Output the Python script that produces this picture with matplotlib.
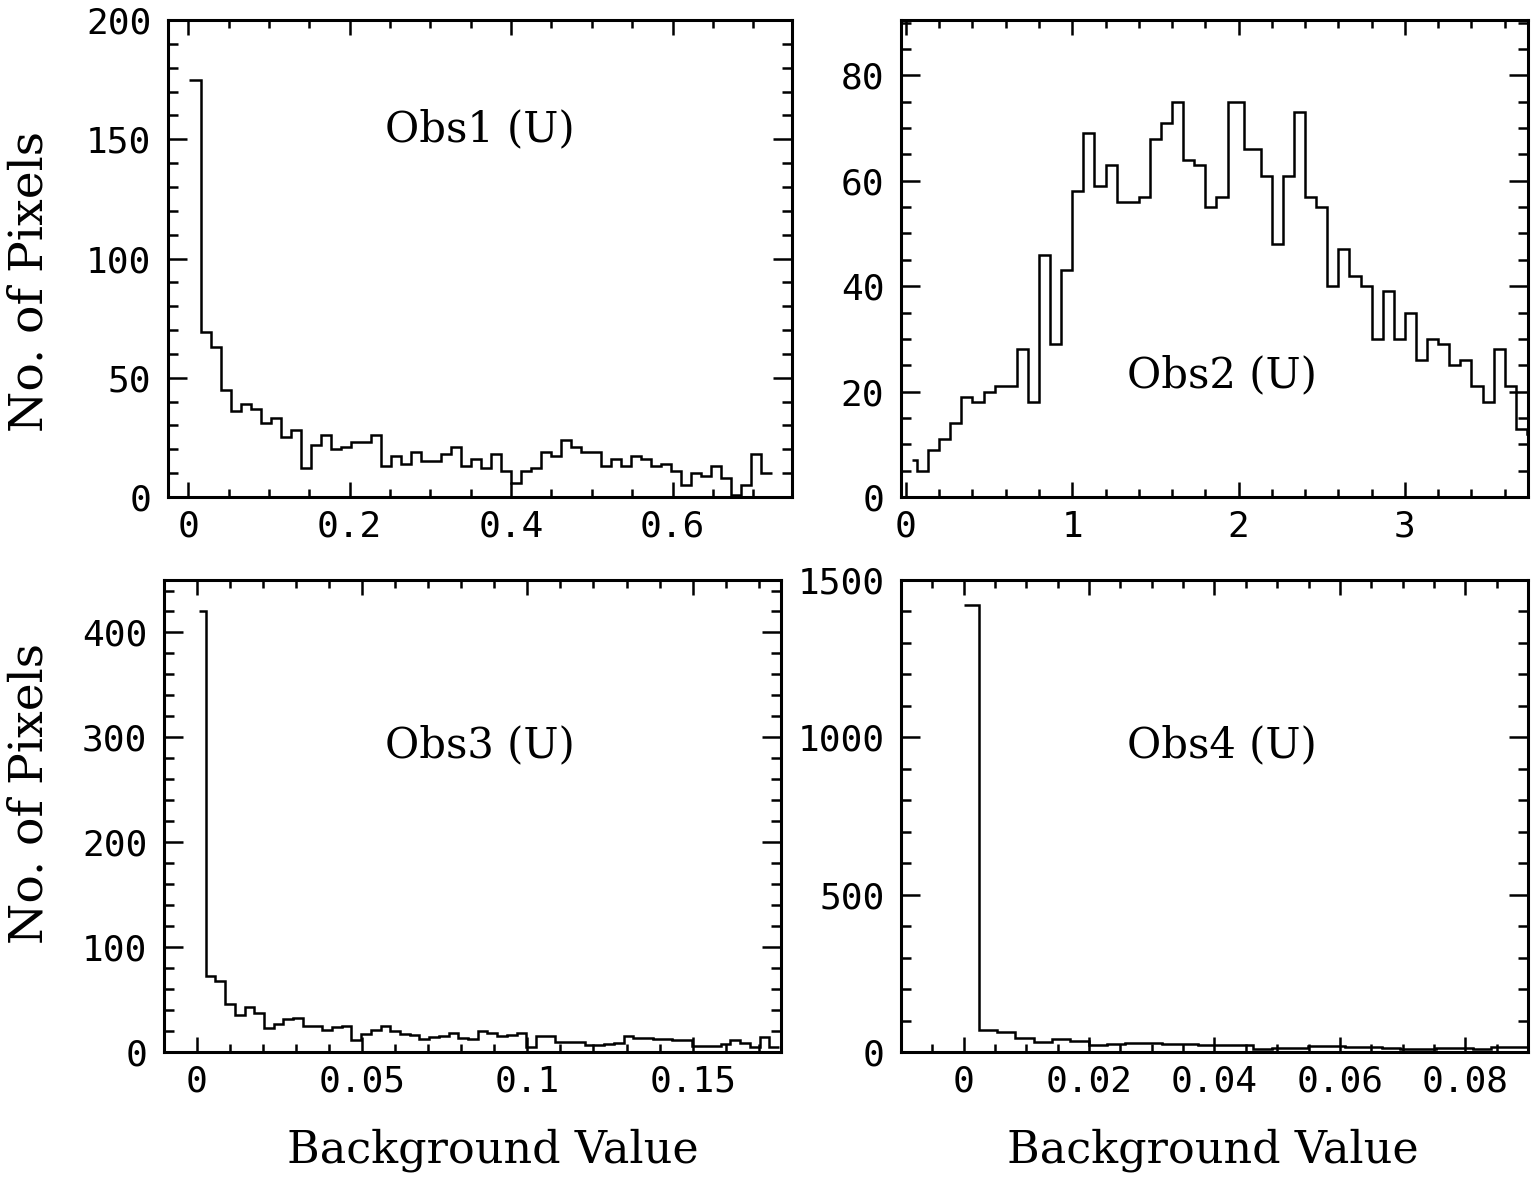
import matplotlib
matplotlib.use('Agg')
import numpy as np
import matplotlib.pyplot as plt
from matplotlib.ticker import MultipleLocator, FormatStrFormatter

# ---- data ----
# Obs1: first (partial) bin edge, then regular bins
obs1_counts = [175, 69, 63, 45, 36, 39, 37, 31, 33, 25, 28, 12, 22, 26, 20, 21, 23, 23,
               26, 13, 17, 14, 19, 15, 15, 18, 21, 13, 16, 12, 18, 11, 6, 11, 12, 19,
               17, 24, 21, 19, 19, 13, 16, 13, 17, 16, 13, 14, 11, 5, 10, 9, 13, 8, 1,
               5, 18, 10]
obs1_first, obs1_start, obs1_width = 0.001, 0.0152, 0.01241

# Obs2: bin centres (k + 0.5)/15, the bin k=30 is absent
obs2_counts = [7, 5, 9, 11, 14, 19, 18, 20, 21, 21, 28, 18, 46, 29, 43, 58, 69, 59, 63,
               56, 56, 57, 68, 71, 75, 64, 63, 55, 57, 75,
               66, 61, 48, 61, 73, 57, 55, 40, 47, 42, 40, 30, 39, 30, 35, 26, 30, 29,
               25, 26, 21, 18, 28, 21, 13, 12]
obs2_nbins, obs2_width, obs2_missing = 57, 1.0 / 15, 30

# Obs3
obs3_counts = [420, 72, 68, 46, 35, 43, 37, 23, 27, 31, 32, 25, 25, 21, 24, 25, 11, 17,
               21, 25, 20, 17, 16, 12, 14, 15, 18, 13, 12, 20, 18, 15, 16, 18, 5, 15,
               15, 10, 10, 10, 7, 7, 8, 9, 15, 13, 13, 12, 12, 11, 11, 6, 6, 6, 8, 11,
               9, 5, 14, 5]
obs3_first, obs3_start, obs3_width = 0.0005, 0.00266, 0.00294

# Obs4
obs4_counts = [1420, 70, 64, 43, 33, 40, 35, 21, 25, 30, 30, 24, 24, 22, 22, 22, 9, 12,
               12, 20, 20, 17, 17, 14, 10, 10, 12, 12, 9, 17, 17]
obs4_first, obs4_start, obs4_width = 0.0, 0.0024, 0.00292

titles = ['Obs1 (U)', 'Obs2 (U)', 'Obs3 (U)', 'Obs4 (U)']
ylabel = 'No. of Pixels'
xlabel = 'Background Value'


def reg_edges(first, start, width, n):
    # first bin starts at `first`, the rest are regular
    return np.r_[first, start + width * np.arange(n)]


def mid_edges(c):
    # steps drawn around centres, line ends at first/last centre
    c = np.asarray(c)
    return np.r_[c[0], 0.5 * (c[1:] + c[:-1]), c[-1]]


obs2_x = np.delete((np.arange(obs2_nbins) + 0.5) * obs2_width, obs2_missing)

fig = plt.figure(figsize=(15.32, 11.77), dpi=100)

serif = 'DejaVu Serif'
tickfont = 'DejaVu Sans Mono'


def panel(rect, edges, counts, xlim, ylim, xmaj, xmin, ymaj, ymin, title, tpos):
    ax = fig.add_axes(rect)
    ax.stairs(counts, edges, baseline=None, color='black', lw=1.8)
    ax.set_xlim(*xlim)
    ax.set_ylim(*ylim)
    ax.xaxis.set_major_locator(MultipleLocator(xmaj))
    ax.xaxis.set_minor_locator(MultipleLocator(xmin))
    ax.yaxis.set_major_locator(MultipleLocator(ymaj))
    ax.yaxis.set_minor_locator(MultipleLocator(ymin))
    ax.xaxis.set_major_formatter(FormatStrFormatter('%g'))
    ax.yaxis.set_major_formatter(FormatStrFormatter('%g'))
    ax.tick_params(which='both', direction='in', top=True, right=True, width=1.8,
                   labelsize=26, color='black')
    ax.tick_params(axis='x', which='major', length=11, pad=9)
    ax.tick_params(axis='x', which='minor', length=5.5)
    ax.tick_params(axis='y', which='major', length=14, pad=12)
    ax.tick_params(axis='y', which='minor', length=7)
    for lab in ax.get_xticklabels() + ax.get_yticklabels():
        lab.set_family(tickfont)
    for s in ax.spines.values():
        s.set_linewidth(2.2)
    ax.text(tpos[0], tpos[1], title, transform=ax.transAxes, ha='center', va='center',
            fontsize=30, family=serif)
    return ax


panel([0.1097, 0.5777, 0.4073, 0.4053],
      reg_edges(obs1_first, obs1_start, obs1_width, len(obs1_counts)), obs1_counts,
      (-0.025, 0.748), (0, 200), 0.2, 0.05, 50, 10, titles[0], (0.5, 0.77))
panel([0.5881, 0.5777, 0.4093, 0.4053],
      mid_edges(obs2_x), obs2_counts,
      (-0.03, 3.74), (0, 90.5), 1, 0.2, 20, 5, titles[1], (0.512, 0.256))
panel([0.1070, 0.1062, 0.4027, 0.4010],
      reg_edges(obs3_first, obs3_start, obs3_width, len(obs3_counts)), obs3_counts,
      (-0.01, 0.1767), (0, 450), 0.05, 0.01, 100, 20, titles[2], (0.512, 0.65))
panel([0.5881, 0.1062, 0.4093, 0.4010],
      reg_edges(obs4_first, obs4_start, obs4_width, len(obs4_counts)), obs4_counts,
      (-0.01, 0.09), (0, 1500), 0.02, 0.005, 500, 100, titles[3], (0.512, 0.65))

# axis labels
for yc in (281, 794):
    fig.text(30 / 1532, 1 - yc / 1177, ylabel, rotation=90, ha='center', va='center',
             fontsize=34, family=serif)
for xc in (493, 1213):
    fig.text(xc / 1532, 1 - 1150 / 1177, xlabel, ha='center', va='center',
             fontsize=32, family=serif)

fig.savefig('out.png', dpi=100)
